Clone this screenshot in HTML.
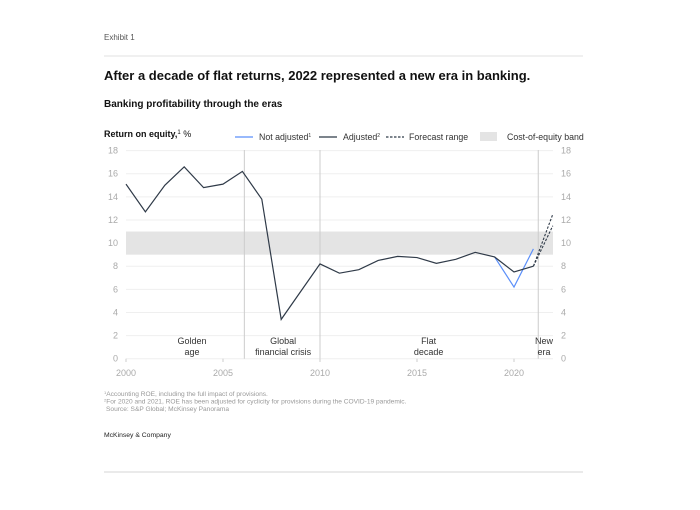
<!DOCTYPE html>
<html><head><meta charset="utf-8"><style>
html,body{margin:0;padding:0;background:#fff;}
svg{display:block;font-family:"Liberation Sans",Arial,sans-serif;}
</style></head><body>
<svg id="c" width="700" height="510" viewBox="0 0 700 510">
<text x="104" y="40" font-size="8" fill="#555">Exhibit 1</text>
<line x1="104" y1="56" x2="583" y2="56" stroke="#e2e2e2" stroke-width="1"/>
<text x="104" y="80" font-size="13" font-weight="bold" fill="#111">After a decade of flat returns, 2022 represented a new era in banking.</text>
<text x="104" y="107" font-size="10" font-weight="bold" fill="#111">Banking profitability through the eras</text>
<text x="104" y="137" font-size="9" font-weight="bold" fill="#111">Return on equity,<tspan font-size="6" dy="-3" font-weight="normal">1</tspan><tspan dy="3" font-weight="normal"> %</tspan></text>
<g>
<line x1="235" y1="137" x2="253" y2="137" stroke="#5b8ff9" stroke-width="1.2"/>
<text x="259" y="140" font-size="8.8" fill="#333">Not adjusted<tspan font-size="5" dy="-3">1</tspan></text>
<line x1="319" y1="137" x2="337" y2="137" stroke="#2f3a48" stroke-width="1.2"/>
<text x="343" y="140" font-size="8.8" fill="#333">Adjusted<tspan font-size="5" dy="-3">2</tspan></text>
<line x1="386" y1="137" x2="404" y2="137" stroke="#2f3a48" stroke-width="1.2" stroke-dasharray="2.5,1.5"/>
<text x="409" y="140" font-size="8.8" fill="#333">Forecast range</text>
<rect x="480" y="132" width="17" height="9" fill="#e4e4e4"/>
<text x="507" y="140" font-size="8.8" fill="#333">Cost-of-equity band</text>
</g>
<g id="plot"></g>
<text x="104" y="396" font-size="6.6" fill="#999"><tspan font-size="4" dy="-2">1</tspan><tspan dy="2">Accounting ROE, including the full impact of provisions.</tspan></text>
<text x="104" y="403.5" font-size="6.6" fill="#999"><tspan font-size="4" dy="-2">2</tspan><tspan dy="2">For 2020 and 2021, ROE has been adjusted for cyclicity for provisions during the COVID-19 pandemic.</tspan></text>
<text x="106" y="411" font-size="6.6" fill="#999">Source: S&amp;P Global; McKinsey Panorama</text>
<text x="104" y="437" font-size="6.8" fill="#222">McKinsey &amp; Company</text>
<line x1="104" y1="472" x2="583" y2="472" stroke="#e4e4e4" stroke-width="1.5"/>
</svg>
<script>
const years=[2000,2001,2002,2003,2004,2005,2006,2007,2008,2009,2010,2011,2012,2013,2014,2015,2016,2017,2018,2019,2020,2021];
const adjusted=[15.1,12.7,15.0,16.6,14.8,15.1,16.2,13.8,3.4,5.8,8.2,7.4,7.7,8.5,8.85,8.75,8.25,8.6,9.2,8.8,7.5,8.0];
const notAdjYears=[2019,2020,2021];
const notAdjusted=[8.8,6.2,9.5];
const forecastYears=[2021,2022];
const forecastHigh=[8.0,12.5];
const forecastLow=[8.0,11.5];
const bandLow=9, bandHigh=11;
const yTicks=[0,2,4,6,8,10,12,14,16,18];
const xTicks=[2000,2005,2010,2015,2020];
const eraDividers=[2006.1,2010,2021.25];
const eraLabels=[["Golden","age",2003.4],["Global","financial crisis",2008.1],["Flat","decade",2015.6],["New","era",2021.55]];
const NS="http://www.w3.org/2000/svg";
const X=y=>126+(y-2000)*19.4;
const Y=v=>358.7-v*11.56;
const g=document.getElementById('plot');
function mk(t,a){const e=document.createElementNS(NS,t);for(const k in a)e.setAttribute(k,a[k]);g.appendChild(e);return e;}
yTicks.forEach(v=>{
 const l=mk('line',{x1:126,x2:553,y1:Y(v),y2:Y(v),stroke:'#efefef','stroke-width':1});
 
 
 const t=mk('text',{x:118,y:Y(v)+3,'font-size':9,fill:'#aaa','text-anchor':'end'});t.textContent=v;
 
 
 const t2=mk('text',{x:561,y:Y(v)+3,'font-size':9,fill:'#aaa'});t2.textContent=v;
 
 
});
const band=mk('rect',{x:126,y:Y(bandHigh),width:427,height:Y(bandLow)-Y(bandHigh),fill:'#e4e4e4'});


xTicks.forEach(v=>{
 const t=mk('text',{x:X(v),y:376,'font-size':9,fill:'#aaa','text-anchor':'middle'});t.textContent=v;
 
 
 mk('line',{x1:X(v),x2:X(v),y1:358.7,y2:362,stroke:'#ccc'});
});
eraDividers.forEach((d,i)=>{
 const l=mk('line',{x1:X(d),x2:X(d),y1:150,y2:358.7,stroke:'#ccc','stroke-width':1});
 
 
});
eraLabels.forEach((e,i)=>{
 const t=mk('text',{x:X(e[2]),y:344,'font-size':9,fill:'#333','text-anchor':'middle'});
 t.innerHTML='<tspan x="'+X(e[2])+'">'+e[0]+'</tspan><tspan x="'+X(e[2])+'" dy="11">'+e[1]+'</tspan>';
 
 
});
function path(xs,vs,st,name){
 const p=mk('polyline',Object.assign({points:xs.map((x,i)=>X(x)+','+Y(vs[i])).join(' '),fill:'none'},st));
 
 
}
path(notAdjYears,notAdjusted,{stroke:'#5b8ff9','stroke-width':1.2},'not-adjusted-line');
path(years,adjusted,{stroke:'#2f3a48','stroke-width':1.2},'adjusted-line');
path(forecastYears,forecastHigh,{stroke:'#2f3a48','stroke-width':1.1,'stroke-dasharray':'2.5,1.5'},'forecast-high-line');
path(forecastYears,forecastLow,{stroke:'#2f3a48','stroke-width':1.1,'stroke-dasharray':'2.5,1.5'},'forecast-low-line');
</script>
</body></html>
